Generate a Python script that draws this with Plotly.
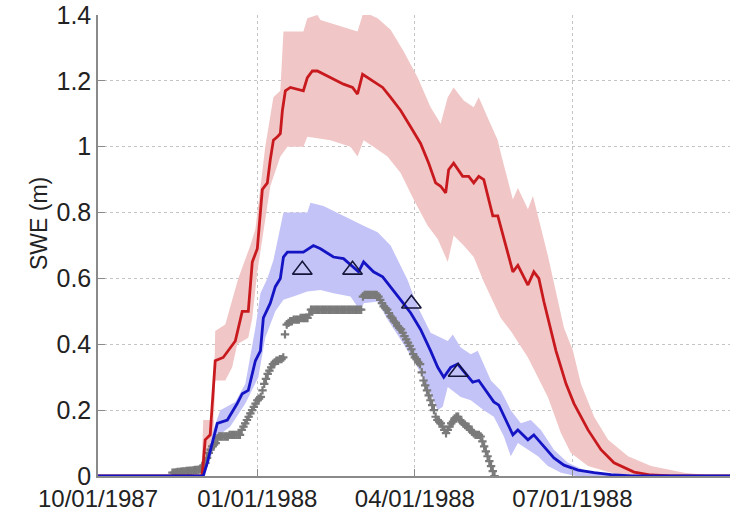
import numpy as np
import pandas as pd
import plotly.graph_objects as go

WY_START = pd.Timestamp("1987-10-01")

# Modelled SWE, run 1 (red): mean and ensemble envelope, keyed by day of water year
red_day = [0, 60.0, 60.8, 61.9, 64.8, 67.7, 72.3, 75.2, 79.3, 83.3, 86.8, 89.1, 92.0, 94.9, 97.8,
           99.5, 101.3, 103.6, 105.3, 106.5, 108.2, 111.1, 118.6, 120.9, 123.8, 126.7, 134.3,
           141.8, 147.0, 149.9, 152.8, 155.7, 161.5, 164.4, 169.0, 174.8, 180.6, 186.3, 191.0,
           195.0, 197.9, 200.8, 202.5, 205.4, 210.6, 214.1, 217.0, 219.9, 222.8, 228.0, 230.9,
           239.6, 242.5, 248.3, 251.7, 254.6, 257.5, 264.5, 270.3, 274.9, 283.0, 290.5, 298.0,
           309.6, 319.4, 331, 365]
red_swe = [0, 0, 0.04, 0.11, 0.125, 0.35, 0.36, 0.38, 0.41, 0.50, 0.50, 0.65, 0.69, 0.87, 0.89,
           0.96, 1.02, 1.03, 1.04, 1.11, 1.17, 1.18, 1.17, 1.21, 1.23, 1.23, 1.21,
           1.19, 1.18, 1.16, 1.22, 1.21, 1.19, 1.18, 1.15, 1.11, 1.06, 1.01, 0.95,
           0.89, 0.88, 0.86, 0.93, 0.95, 0.91, 0.91, 0.89, 0.91, 0.90, 0.79, 0.79,
           0.62, 0.64, 0.58, 0.62, 0.60, 0.53, 0.38, 0.28, 0.22, 0.14, 0.08, 0.04,
           0.012, 0.003, 0, 0]

red_hi_day = [0, 59.6, 60.8, 66.6, 67.7, 73.5, 81.0, 88.0, 90.9, 94.9, 96.6, 101.3, 105.3, 107.1,
              118.6, 120.9, 126.7, 128.5, 138.3, 149.9, 153.4, 161.5, 169.0, 176.5, 184.6,
              192.1, 197.9, 202.0, 205.4, 211.2, 217.0, 219.9, 225.7, 230.9, 232.6, 239.6,
              242.5, 248.3, 251.2, 259.8, 269.1, 274.3, 278.9, 286.5, 294.6, 306.1, 319.4,
              338.5, 357, 365]
red_hi = [0, 0, 0.17, 0.17, 0.44, 0.46, 0.60, 0.70, 0.75, 0.92, 1.00, 1.15, 1.17, 1.35,
          1.35, 1.39, 1.40, 1.385, 1.37, 1.35, 1.41, 1.39, 1.355, 1.29, 1.21,
          1.12, 1.07, 1.15, 1.18, 1.14, 1.12, 1.15, 1.08, 1.02, 0.98, 0.84,
          0.875, 0.81, 0.85, 0.67, 0.45, 0.38, 0.28, 0.18, 0.11, 0.06, 0.03,
          0.01, 0, 0]

red_lo_day = [0, 60.8, 64.8, 66.6, 67.7, 73.5, 77.5, 80.4, 86.8, 89.1, 92.0, 94.9, 99.5, 105.3,
              109.4, 118.6, 120.9, 134.3, 145.8, 149.9, 153.4, 159.1, 167.2, 174.8, 182.3,
              190.4, 196.2, 202.0, 205.4, 211.2, 217.0, 222.8, 232.6, 238.4, 248.3, 259.8,
              267.4, 273.1, 283.0, 296.3, 307.9, 365]
red_lo = [0, 0, 0.10, 0.12, 0.29, 0.29, 0.33, 0.40, 0.42, 0.48, 0.62, 0.72, 0.88, 0.97,
          1.00, 1.00, 1.03, 1.02, 1.00, 0.97, 1.02, 1.00, 0.97, 0.92, 0.84,
          0.76, 0.72, 0.65, 0.73, 0.70, 0.665, 0.59, 0.48, 0.44, 0.36, 0.24,
          0.13, 0.07, 0.03, 0.01, 0, 0]

# Modelled SWE, run 2 (blue)
blue_day = [0, 60.8, 63.1, 66.6, 68.9, 74.7, 80.4, 83.3, 86.8, 90.9, 93.8, 95.5, 99.5, 102.4,
            105.3, 107.1, 109.4, 118.6, 121.5, 124.4, 128.5, 136.0, 141.8, 147.6, 150.5, 153.4,
            159.1, 164.4, 169.0, 174.8, 180.6, 186.3, 192.1, 196.2, 199.7, 203.7, 207.8, 213.5,
            216.4, 219.9, 225.1, 228.6, 231.5, 236.7, 239.6, 242.5, 248.3, 251.7, 257.5, 263.3,
            269.1, 277.2, 286.5, 296.3, 307.9, 365]
blue_swe = [0, 0, 0.04, 0.11, 0.16, 0.17, 0.22, 0.25, 0.26, 0.35, 0.38, 0.48, 0.525, 0.575,
            0.60, 0.665, 0.68, 0.68, 0.69, 0.70, 0.69, 0.665, 0.66, 0.635, 0.62, 0.65,
            0.62, 0.605, 0.575, 0.535, 0.495, 0.445, 0.38, 0.33, 0.30, 0.33, 0.34, 0.305,
            0.285, 0.29, 0.25, 0.225, 0.215, 0.16, 0.125, 0.14, 0.11, 0.125, 0.09, 0.055,
            0.033, 0.018, 0.01, 0.004, 0, 0]

blue_hi_day = [0, 60.8, 63.1, 66.6, 70.6, 79.3, 85.1, 90.9, 93.8, 97.8, 101.3, 107.1, 120.9,
               122.7, 130.2, 138.3, 145.8, 153.4, 161.5, 169.0, 178.8, 184.6, 192.1, 202.0,
               204.9, 209.5, 215.3, 219.3, 226.9, 232.6, 238.4, 244.2, 250.0, 255.8, 263.3,
               271.4, 280.7, 302.1, 365]
blue_hi = [0, 0, 0.06, 0.14, 0.20, 0.225, 0.28, 0.45, 0.555, 0.60, 0.655, 0.80, 0.80,
           0.83, 0.82, 0.80, 0.78, 0.76, 0.74, 0.70, 0.595, 0.515, 0.435, 0.41,
           0.43, 0.39, 0.37, 0.38, 0.29, 0.26, 0.20, 0.16, 0.17, 0.14, 0.08,
           0.04, 0.018, 0, 0]

blue_lo_day = [0, 60.8, 64.8, 68.9, 76.4, 85.1, 92.6, 96.6, 102.4, 107.1, 112.8, 120.9, 128.5,
               136.0, 145.8, 151.6, 153.4, 161.5, 167.2, 176.5, 184.6, 192.1, 196.2, 199.1,
               202.0, 209.5, 215.3, 222.8, 228.6, 234.4, 238.4, 242.5, 248.3, 254.1, 259.8,
               267.4, 276, 365]
blue_lo = [0, 0, 0.05, 0.12, 0.15, 0.22, 0.30, 0.42, 0.50, 0.535, 0.545, 0.56, 0.565,
           0.555, 0.545, 0.50, 0.525, 0.53, 0.475, 0.40, 0.33, 0.25, 0.20, 0.21,
           0.27, 0.24, 0.23, 0.20, 0.18, 0.12, 0.06, 0.10, 0.08, 0.06, 0.03,
           0.01, 0, 0]

# Daily snow pillow observations starting 1987-11-13
obs_start = "1987-11-13"
obs_swe = [
    0.010, 0.010, 0.011, 0.012, 0.012, 0.013, 0.014, 0.014, 0.015, 0.015, 0.016, 0.016, 0.017,
    0.018, 0.018, 0.019, 0.020,
    0.025, 0.032, 0.040, 0.055, 0.070, 0.080, 0.090, 0.095, 0.100, 0.115,
    0.120, 0.120, 0.120, 0.120, 0.120, 0.120, 0.125, 0.125, 0.125, 0.125, 0.125, 0.125, 0.125,
    0.140, 0.150, 0.160, 0.170, 0.180, 0.190, 0.200, 0.210, 0.220, 0.230, 0.235, 0.240, 0.260,
    0.280, 0.295, 0.310, 0.320, 0.330, 0.340, 0.345,
    0.350, 0.350, 0.355, 0.355, 0.360,
    0.430, 0.460, 0.465, 0.470, 0.470, 0.475, 0.475, 0.475, 0.475, 0.480, 0.480, 0.480, 0.480,
    0.480, 0.490,
    0.505, 0.505, 0.505, 0.505, 0.505, 0.505, 0.505, 0.505, 0.505, 0.505, 0.505, 0.505, 0.505,
    0.505, 0.505, 0.505, 0.505, 0.505, 0.505, 0.505, 0.505, 0.505, 0.505, 0.505, 0.505, 0.505,
    0.505, 0.505, 0.505, 0.505,
    0.545, 0.550, 0.550, 0.550, 0.550, 0.550, 0.550, 0.550, 0.550,
    0.545, 0.535, 0.525, 0.515, 0.510, 0.505, 0.495, 0.485, 0.480, 0.470, 0.465, 0.455, 0.450,
    0.445, 0.435, 0.425, 0.415, 0.405, 0.395, 0.385, 0.370, 0.360, 0.355, 0.345, 0.340,
    0.315, 0.290, 0.275, 0.260, 0.245, 0.230, 0.215, 0.200, 0.180, 0.170, 0.165, 0.160, 0.150,
    0.140, 0.130,
    0.140, 0.150, 0.160, 0.165, 0.175, 0.180, 0.180, 0.170, 0.165, 0.160, 0.155, 0.150, 0.150,
    0.140, 0.135, 0.130, 0.125, 0.125, 0.125, 0.120,
    0.105, 0.090, 0.075, 0.060, 0.045, 0.030, 0.015, 0.000,
]

# Snow course measurements
course_date = ["1988-01-27", "1988-02-25", "1988-03-30", "1988-04-26"]
course_swe = [0.626, 0.626, 0.523, 0.316]

# Axis ticks
x_tick_dates = ["1987-10-01", "1988-01-01", "1988-04-01", "1988-07-01"]
x_tick_text = ["10/01/1987", "01/01/1988", "04/01/1988", "07/01/1988"]
y_tick_vals = [0, 0.2, 0.4, 0.6, 0.8, 1.0, 1.2, 1.4]
y_tick_text = ["0", "0.2", "0.4", "0.6", "0.8", "1", "1.2", "1.4"]


def to_dates(days):
    return WY_START + pd.to_timedelta(np.asarray(days, dtype=float), unit="D")


def band(hi_day, hi, lo_day, lo, color):
    x = list(to_dates(hi_day)) + list(to_dates(lo_day))[::-1]
    y = list(hi) + list(lo)[::-1]
    return go.Scatter(x=x, y=y, mode="lines", fill="toself", fillcolor=color,
                      line=dict(width=0), hoverinfo="skip", showlegend=False)


fig = go.Figure()
fig.add_trace(band(red_hi_day, red_hi, red_lo_day, red_lo, "#f1c6c6"))
fig.add_trace(band(blue_hi_day, blue_hi, blue_lo_day, blue_lo, "#c3c3f7"))

obs_dates = pd.date_range(obs_start, periods=len(obs_swe), freq="D")
fig.add_trace(go.Scatter(x=obs_dates, y=obs_swe, mode="markers", showlegend=False,
                         marker=dict(symbol="cross-thin-open", size=6, color="#7a7a7a",
                                     line=dict(width=2.2, color="#7a7a7a"))))

fig.add_trace(go.Scatter(x=to_dates(red_day), y=red_swe, mode="lines", showlegend=False,
                         line=dict(color="#c81a1e", width=2.8)))
fig.add_trace(go.Scatter(x=to_dates(blue_day), y=blue_swe, mode="lines", showlegend=False,
                         line=dict(color="#1414c4", width=2.8)))

fig.add_trace(go.Scatter(x=course_date, y=course_swe, mode="markers", showlegend=False,
                         marker=dict(symbol="triangle-up-open", size=17, color="#15153a",
                                     line=dict(width=1.6, color="#15153a"))))

x_font = dict(family="Liberation Sans, Arial, sans-serif", size=24, color="#222222")
y_font = dict(family="Liberation Sans, Arial, sans-serif", size=25, color="#222222")

fig.update_layout(
    width=749, height=512,
    margin=dict(l=98, r=19, t=15, b=36, autoexpand=False),
    paper_bgcolor="white", plot_bgcolor="white",
    font=x_font,
    xaxis=dict(
        range=["1987-10-01", "1988-09-30"],
        tickmode="array", tickvals=x_tick_dates, ticktext=x_tick_text,
        tickfont=x_font, automargin=False,
        showgrid=True, gridcolor="#c4c4c4", griddash="dot", gridwidth=1,
        showline=True, linecolor="#8a8a8a", linewidth=1.5,
        ticks="inside", ticklen=7, tickcolor="#8a8a8a",
        zeroline=False,
    ),
    yaxis=dict(
        range=[0, 1.4],
        tickmode="array", tickvals=y_tick_vals, ticktext=y_tick_text,
        tickfont=y_font, automargin=False,
        showgrid=True, gridcolor="#c4c4c4", griddash="dot", gridwidth=1,
        showline=True, linecolor="#8a8a8a", linewidth=1.5,
        ticks="inside", ticklen=7, tickcolor="#8a8a8a",
        zeroline=False,
    ),
    annotations=[dict(
        text="SWE (m)", textangle=-90, showarrow=False,
        xref="paper", yref="paper", x=(39 - 98) / 632, y=(476 - 224) / 461,
        xanchor="center", yanchor="middle",
        font=dict(family="Liberation Sans, Arial, sans-serif", size=23, color="#222222"),
    )],
)

fig.write_html("out.html")
